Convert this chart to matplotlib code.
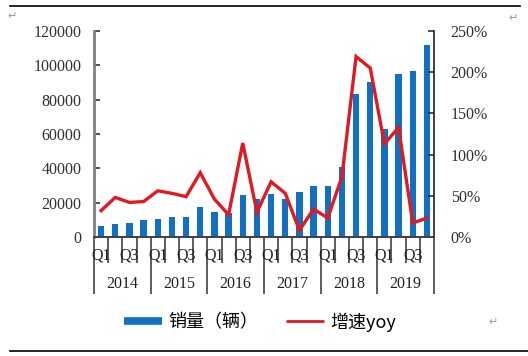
import matplotlib
matplotlib.use("Agg")
import matplotlib.pyplot as plt
from matplotlib.lines import Line2D
from matplotlib.ticker import FixedLocator, FuncFormatter
import matplotlib.transforms as mtrans

years = ["2014", "2015", "2016", "2017", "2018", "2019"]
quarters = ["Q1", "Q2", "Q3", "Q4"]
sales = [6400, 7600, 8200, 9700, 10300, 11800, 11800, 17500,
         14700, 14000, 24600, 22400, 25100, 21900, 26200, 29700,
         29700, 41000, 83300, 90500, 62700, 95000, 96700, 111800]
yoy = [0.32, 0.48, 0.42, 0.43, 0.56, 0.53, 0.49, 0.78,
       0.46, 0.27, 1.14, 0.30, 0.67, 0.53, 0.08, 0.34,
       0.23, 0.73, 2.19, 2.05, 1.13, 1.33, 0.17, 0.23]
label_sales = "销量（辆）"
label_yoy = "增速yoy"

W, H = 528, 356
fig = plt.figure(figsize=(W / 100, H / 100), dpi=100)
fig.patch.set_facecolor("white")

def fx(px):
    return px / W

def fy(py):
    return 1 - py / H

ax = fig.add_axes([fx(94), fy(237), fx(434) - fx(94), fy(31) - fy(237)])
ax2 = ax.twinx()

n = len(sales)
x = list(range(n))
blue = "#1270C0"
red = "#E01A22"
serif = "Liberation Serif"

ax.bar(x, sales, width=0.45, color=blue, zorder=2)
ax.set_xlim(-0.5, n - 0.5)
ax.set_ylim(0, 120000)
ax.set_yticks(range(0, 120001, 20000))
ax.set_yticklabels([str(v) for v in range(0, 120001, 20000)], fontfamily=serif, fontsize=11.5)
ax.tick_params(axis="y", direction="in", length=4, width=1.2, pad=9, colors="#303030")

ax2.plot(x, yoy, color=red, lw=2.4, solid_joinstyle="miter", zorder=3)
ax2.set_ylim(0, 2.5)
ax2.set_yticks([0, 0.5, 1.0, 1.5, 2.0, 2.5])
ax2.yaxis.set_major_formatter(FuncFormatter(lambda v, p: f"{int(round(v * 100))}%"))
for t in ax2.get_yticklabels():
    t.set_fontfamily(serif)
    t.set_fontsize(11.5)
ax2.tick_params(axis="y", direction="in", length=4, width=1.2, pad=12, colors="#303030")
ax2.set_xlim(-0.5, n - 0.5)

for a in (ax, ax2):
    a.spines["top"].set_visible(False)
    a.spines["bottom"].set_color("#404040")
    a.spines["bottom"].set_linewidth(1.2)
ax.spines["left"].set_color("#808080")
ax.spines["left"].set_linewidth(2.0)
ax.spines["right"].set_visible(False)
ax2.spines["left"].set_visible(False)
ax2.spines["right"].set_color("#202020")
ax2.spines["right"].set_linewidth(1.2)

# x-axis category ticks
major = [i * 4 - 0.5 for i in range(len(years) + 1)]
minor = [i - 0.5 for i in range(n + 1) if (i % 4) != 0]
ax.xaxis.set_major_locator(FixedLocator(major))
ax.xaxis.set_minor_locator(FixedLocator(minor))
ax.tick_params(axis="x", which="major", direction="out", length=41, width=1.1, colors="#303030", labelbottom=False)
ax.tick_params(axis="x", which="minor", direction="out", length=19, width=1.1, colors="#303030", labelbottom=False)
ax2.tick_params(axis="x", which="both", bottom=False, labelbottom=False)

trans = mtrans.blended_transform_factory(ax.transData, ax.transAxes)
qy = (237 - 256) / (237 - 31)
yy = (237 - 284) / (237 - 31)
for i in range(n):
    if i % 2 == 0:
        ax.text(i, qy, quarters[i % 4], transform=trans, ha="center", va="center",
                fontfamily=serif, fontsize=11.5, color="#202020", clip_on=False)
for j, yr in enumerate(years):
    ax.text(j * 4 + 1.5, yy, yr, transform=trans, ha="center", va="center",
            fontfamily=serif, fontsize=11.5, color="#202020", clip_on=False)

# legend
handles = [Line2D([0], [0], color=blue, lw=5.5, solid_capstyle="butt"),
           Line2D([0], [0], color=red, lw=2.0, solid_capstyle="butt")]
leg = fig.legend(handles, [label_sales, label_yoy], loc="center",
                 bbox_to_anchor=(fx(260), fy(322)), ncol=2, frameon=False,
                 prop={"family": ["Noto Sans CJK SC", "DejaVu Sans"], "size": 13},
                 handlelength=2.1, handletextpad=0.35, columnspacing=1.5)

# document decorations
fig.add_artist(Line2D([fx(10), fx(520)], [fy(6), fy(6)], color="black", lw=1.2))
fig.add_artist(Line2D([fx(10), fx(528)], [fy(351), fy(351)], color="black", lw=1.2))
for (px, py) in [(12, 16), (513, 18), (493, 322)]:
    fig.text(fx(px), fy(py), "\u21b5", ha="center", va="center", fontsize=8,
             color="#9a9a9a", family="DejaVu Sans")

fig.savefig("out.png", dpi=100, facecolor="white")
